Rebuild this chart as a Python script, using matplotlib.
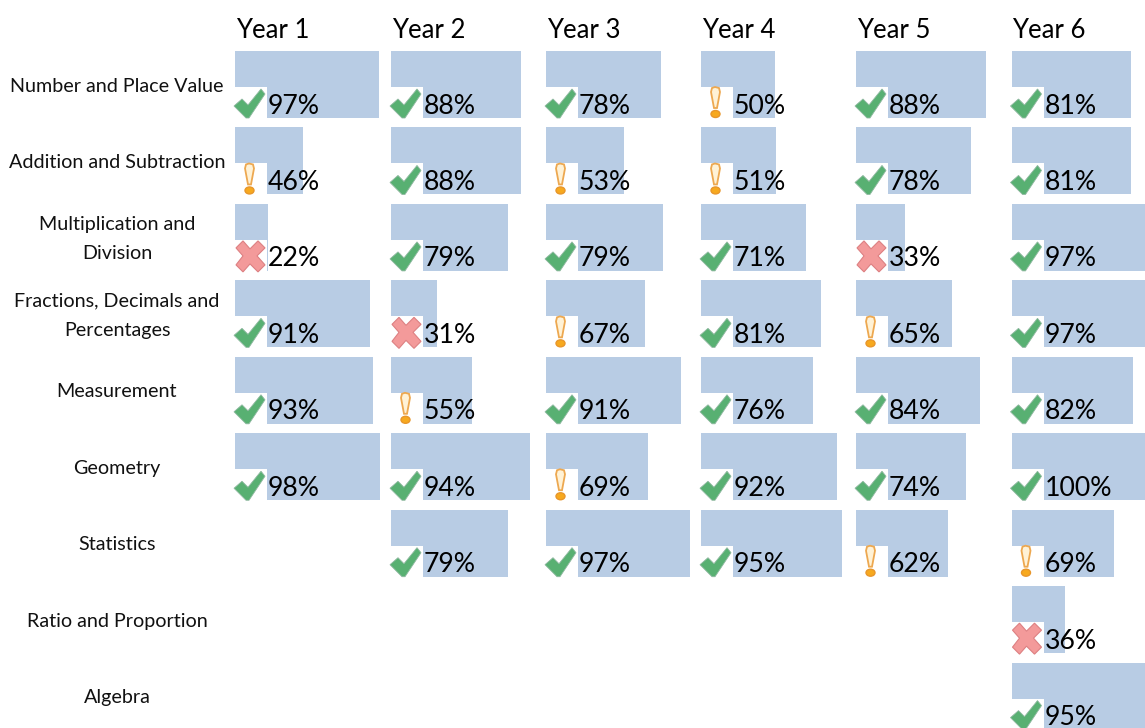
import matplotlib
matplotlib.use("Agg")
import matplotlib.pyplot as plt
from matplotlib.patches import Polygon, Ellipse, Rectangle


YEARS = ["Year 1", "Year 2", "Year 3", "Year 4", "Year 5", "Year 6"]
TOPICS = ["Number and Place Value", "Addition and Subtraction", "Multiplication and\nDivision",
          "Fractions, Decimals and\nPercentages", "Measurement", "Geometry", "Statistics",
          "Ratio and Proportion", "Algebra"]

YEAR_1 = [97, 46, 22, 91, 93, 98, None, None, None]
YEAR_2 = [88, 88, 79, 31, 55, 94, 79, None, None]
YEAR_3 = [78, 53, 79, 67, 91, 69, 97, None, None]
YEAR_4 = [50, 51, 71, 81, 76, 92, 95, None, None]
YEAR_5 = [88, 78, 33, 65, 84, 74, 62, None, None]
YEAR_6 = [81, 81, 97, 97, 82, 100, 69, 36, 95]

COLUMN_LEFT = [235, 391, 546, 701, 856, 1011.5]
FONT = "Lato"
BAR_COLOR = "#b8cce4"


def draw_check(ax, x, y):
	points = [(0, 19), (8, 12), (14, 18), (27, 2), (31, 7), (15, 31), (12, 31)]
	ax.add_patch(Polygon([(x + px, y + py) for px, py in points], closed=True,
	                     facecolor="#58b072", edgecolor="#8fb8a0", linewidth=0.6, zorder=3))


def draw_cross(ax, x, y):
	points = [(2, 8), (9, 1), (16, 9), (24, 1), (31, 8), (23, 16), (31, 25), (24, 32),
	          (16, 24), (9, 32), (2, 25), (9, 16)]
	ax.add_patch(Polygon([(x + px, y + py) for px, py in points], closed=True,
	                     facecolor="#f39a9a", edgecolor="#dd8082", linewidth=0.8, zorder=3))


def draw_warning(ax, x, y):
	points = [(12, 1), (15, 0), (19, 1), (20, 5), (17, 21), (14, 21), (11, 5)]
	ax.add_patch(Polygon([(x + px, y + py) for px, py in points], closed=True,
	                     facecolor="#fff2d6", edgecolor="#eda850", linewidth=1.3, zorder=3))
	ax.add_patch(Ellipse((x + 15.5, y + 27), 9, 7, facecolor="#f7a91e", edgecolor="#e8962a",
	                     linewidth=1, zorder=3))


def draw_icon(ax, value, x, y):
	if value >= 70:
		draw_check(ax, x, y)
	elif value >= 40:
		draw_warning(ax, x, y)
	else:
		draw_cross(ax, x, y)


def main():
	fig = plt.figure(figsize=(11.45, 7.28), dpi=100)
	ax = fig.add_axes([0, 0, 1, 1])
	ax.set_xlim(0, 1145)
	ax.set_ylim(728, 0)
	ax.axis("off")

	columns = [YEAR_1, YEAR_2, YEAR_3, YEAR_4, YEAR_5, YEAR_6]
	row_tops = [51 + 76.45 * i for i in range(len(TOPICS))]

	for left, year, values in zip(COLUMN_LEFT, YEARS, columns):
		ax.text(left + 1, 30, year, fontsize=18.5, family=FONT, color="black", va="center", ha="left")
		for top, value in zip(row_tops, values):
			if value is None:
				continue
			ax.barh(top + 33.5, value * 1.48, height=67, left=left, color=BAR_COLOR, linewidth=0, zorder=1)
			# white notch behind the icon
			ax.add_patch(Rectangle((left - 1, top + 36), 33, 32, facecolor="white", linewidth=0, zorder=2))
			draw_icon(ax, value, left - 1, top + 36)
			ax.text(left + 33, top + 62.5, f"{value}%", fontsize=19.2, family=FONT, color="black",
			        va="baseline", ha="left", zorder=4)

	for top, topic in zip(row_tops, TOPICS):
		lines = topic.split("\n")
		if len(lines) == 1:
			ax.text(117, top + 35, topic, fontsize=14.2, family=FONT, color="#111111", va="center", ha="center")
		else:
			ax.text(117, top + 21, lines[0], fontsize=14.2, family=FONT, color="#111111", va="center", ha="center")
			ax.text(117, top + 50, lines[1], fontsize=14.2, family=FONT, color="#111111", va="center", ha="center")

	plt.savefig("out.png", dpi=100)


if __name__ == '__main__':
	main()
